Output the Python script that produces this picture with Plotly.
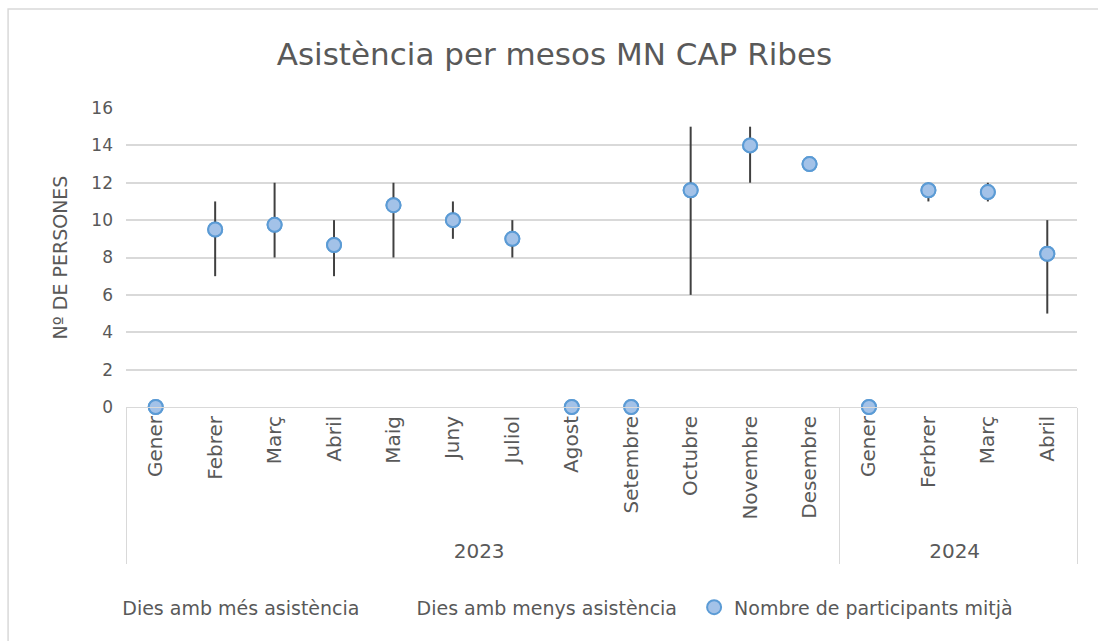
import plotly.graph_objects as go

# Monthly attendance data
years = ["2023"] * 12 + ["2024"] * 4
months = ["Gener", "Febrer", "Març", "Abril", "Maig", "Juny", "Juliol", "Agost",
          "Setembre", "Octubre", "Novembre", "Desembre",
          "Gener", "Ferbrer", "Març", "Abril"]
mes_asistencia = [None, 11, 12, 10, 12, 11, 10, None, None, 15, 15, 13, None, 12, 12, 10]
menys_asistencia = [None, 7, 8, 7, 8, 9, 8, None, None, 6, 12, 13, None, 11, 11, 5]
mitja = [0, 9.5, 9.75, 8.67, 10.8, 10, 9, 0, 0, 11.6, 14, 13, 0, 11.6, 11.5, 8.2]

FONT = "'DejaVu Sans', sans-serif"
GRAY = "#595959"
PAD = "\u00a0\u00a0"  # extra room after the text-only legend entries

# Plotly orders second-level categories by their first appearance across all
# groups; a zero-width suffix keeps each year's months in their own sequence.
month_keys = [m if y == years[0] else m + "\u200b" for y, m in zip(years, months)]
xcat = [years, month_keys]

# High-low segments between max and min days
seg_x0, seg_x1, seg_y = [], [], []
for y, m, hi, lo in zip(years, month_keys, mes_asistencia, menys_asistencia):
    if hi is None or lo is None:
        continue
    seg_x0 += [y, y, None]
    seg_x1 += [m, m, None]
    seg_y += [hi, lo, None]

marker_style = dict(size=14, color="#a3c2e8", line=dict(color="#5b9bd5", width=2))

fig = go.Figure()
# Mean markers first so the category order follows the month sequence
fig.add_trace(go.Scatter(
    x=xcat, y=mitja, mode="markers", marker=marker_style,
    cliponaxis=False, showlegend=False, hoverinfo="skip",
))
fig.add_trace(go.Scatter(
    x=[seg_x0, seg_x1], y=seg_y, mode="lines",
    line=dict(color="#404040", width=2), showlegend=False, hoverinfo="skip",
))
fig.add_trace(go.Scatter(
    x=xcat, y=mes_asistencia, mode="lines",
    line=dict(color="rgba(0,0,0,0)", width=0), name="Dies amb més asistència" + PAD,
))
fig.add_trace(go.Scatter(
    x=xcat, y=menys_asistencia, mode="lines",
    line=dict(color="rgba(0,0,0,0)", width=0), name="Dies amb menys asistència" + PAD,
))
# Markers again on top of the segments, with the legend entry
fig.add_trace(go.Scatter(
    x=xcat, y=mitja, mode="markers", marker=marker_style,
    name="Nombre de participants mitjà", cliponaxis=False,
))

fig.update_layout(
    width=1098, height=641,
    margin=dict(l=126, r=21, t=108, b=234),
    paper_bgcolor="white", plot_bgcolor="white",
    font=dict(family=FONT, size=16, color=GRAY),
    title=dict(text="Asistència per mesos MN CAP Ribes", x=0.505, xanchor="center",
               y=0.915, yanchor="middle", font=dict(size=31, color=GRAY)),
    xaxis=dict(type="multicategory", tickangle=-90, showgrid=False,
               range=[-0.5, len(months) - 0.5],
               showline=True, linecolor="#d9d9d9", linewidth=1,
               showdividers=True, dividercolor="#d9d9d9", dividerwidth=1,
               tickfont=dict(size=20, color=GRAY)),
    yaxis=dict(range=[0, 16], tickvals=list(range(0, 17, 2)),
               showgrid=True, gridcolor="#d9d9d9", gridwidth=1.5,
               zeroline=False, ticks="", ticklabelstandoff=12,
               tickfont=dict(size=17, color=GRAY),
               title=dict(text="Nº DE PERSONES", font=dict(size=19, color=GRAY), standoff=18)),
    legend=dict(orientation="h", x=-0.046, xanchor="left", y=-0.67, yanchor="middle",
                font=dict(size=19, color=GRAY), itemwidth=30),
    shapes=[dict(type="rect", xref="paper", yref="paper", x0=-0.124, x1=1.2,
                 y0=-1.5, y1=1.331, line=dict(color="#d9d9d9", width=1.5))],
)

fig.write_html("out.html")
